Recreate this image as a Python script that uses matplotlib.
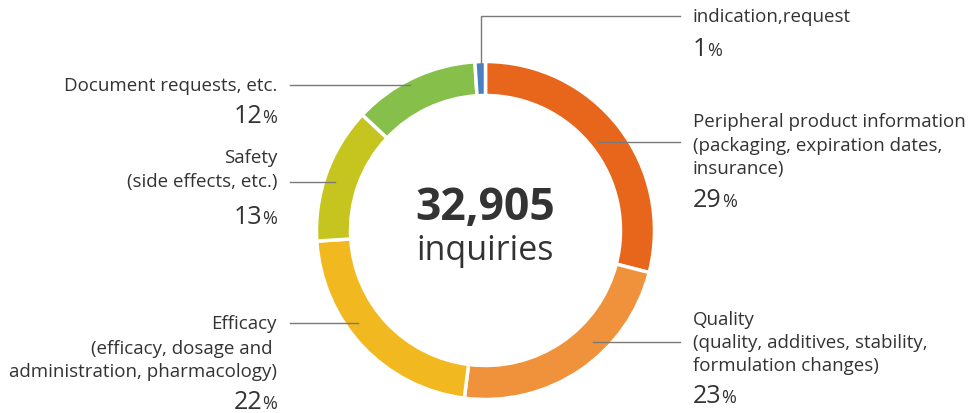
import matplotlib.pyplot as plt

# data
categories = [
    "Peripheral product information",
    "Quality",
    "Efficacy",
    "Safety",
    "Document requests, etc.",
    "indication,request",
]
shares = [29, 23, 22, 13, 12, 1]
colors = ["#e8661c", "#f0923b", "#f1b81f", "#c6c51f", "#86c04b", "#4a7fc2"]
total_label = "32,905"

plt.rcParams["font.family"] = ["Open Sans", "DejaVu Sans"]
TXT = "#333333"
LINE = "#7a7a7a"
FS = 13.5

W, H = 968, 414
fig = plt.figure(figsize=(W / 100, H / 100), dpi=100)
ax = fig.add_axes([0, 0, 1, 1])


def py(y):
    # pixel y (from top) -> data y
    return H - y


cx, cy, r = 485.5, py(231.5), 169
ax.pie(
    shares,
    colors=colors,
    startangle=90,
    counterclock=False,
    center=(cx, cy),
    radius=r,
    wedgeprops=dict(width=34, edgecolor="white", linewidth=2.5),
    frame=True,
)
ax.set_xlim(0, W)
ax.set_ylim(0, H)
ax.set_aspect("equal")
ax.axis("off")

# centre text
ax.text(cx, py(208), total_label, ha="center", va="center", fontsize=32,
        fontweight="bold", color=TXT)
ax.text(cx, py(251), "inquiries", ha="center", va="center", fontsize=24.5, color=TXT)

renderer = fig.canvas.get_renderer()


def lines(pts):
    xs = [p[0] for p in pts]
    ys = [py(p[1]) for p in pts]
    ax.plot(xs, ys, color=LINE, lw=1)


def label(x, ys, texts, pct_y, pct, align):
    for yy, t in zip(ys, texts):
        ax.text(x, py(yy), t, ha=align, va="center", fontsize=FS, color=TXT)
    if align == "left":
        num = ax.text(x, py(pct_y), str(pct), ha="left", va="baseline",
                      fontsize=18, color=TXT)
        w = num.get_window_extent(renderer).width
        ax.text(x + w, py(pct_y), "%", ha="left", va="baseline",
                fontsize=13, color=TXT)
    else:
        sign = ax.text(x, py(pct_y), "%", ha="right", va="baseline",
                       fontsize=13, color=TXT)
        w = sign.get_window_extent(renderer).width
        ax.text(x - w, py(pct_y), str(pct), ha="right", va="baseline",
                fontsize=18, color=TXT)


# right side labels
lines([(481, 68), (481, 17), (680, 17)])
label(693, [17], [categories[5]], 56, shares[5], "left")

lines([(598, 143), (680, 143)])
label(693, [122, 146, 169],
      [categories[0], "(packaging, expiration dates,", "insurance)"],
      207, shares[0], "left")

lines([(593, 343), (680, 343)])
label(693, [320, 343, 366],
      [categories[1], "(quality, additives, stability,", "formulation changes)"],
      403, shares[1], "left")

# left side labels
lines([(290, 86), (410, 86)])
label(277, [86], [categories[4]], 123, shares[4], "right")

lines([(290, 183), (335, 183)])
label(277, [158, 182], [categories[3], "(side effects, etc.)"], 224, shares[3], "right")

lines([(290, 324), (358, 324)])
label(277, [324, 349, 372],
      [categories[2], "(efficacy, dosage and ", "administration, pharmacology)"],
      409, shares[2], "right")

fig.savefig("out.png", dpi=100, facecolor="white")
